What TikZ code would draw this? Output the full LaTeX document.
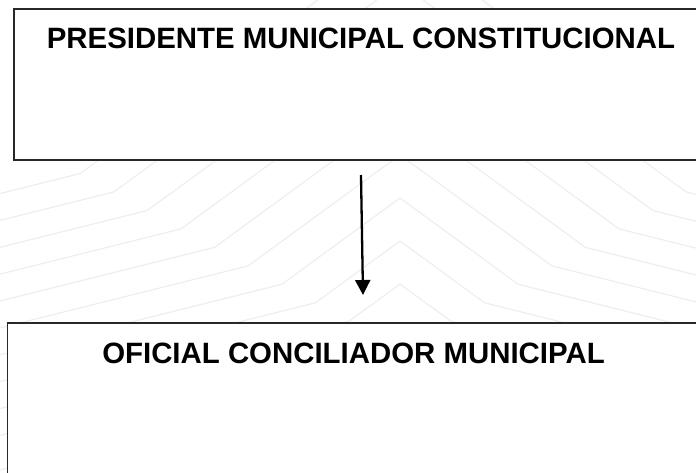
\documentclass[tikz,border=0pt]{standalone}
\usepackage{fontspec}
\setmainfont{Liberation Sans}
\usetikzlibrary{arrows.meta}
\definecolor{wmgray}{RGB}{238,238,238}
\definecolor{boxline}{RGB}{40,40,40}
\tikzset{
  wm/.style={draw=wmgray, line width=1.2pt, line join=round},
  orgbox/.style={draw=boxline, fill=white, line width=1.2pt, rectangle, inner sep=0pt},
  title/.style={font=\fontsize{29.4}{34}\selectfont\bfseries, inner sep=0pt, anchor=base},
  link/.style={draw=black, line width=2.3pt, -{Triangle[width=15pt,length=15pt]}}
}
\begin{document}
\begin{tikzpicture}[x=1pt,y=-1pt]
\useasboundingbox (0,0) rectangle (696,472);
\begin{scope}
\clip (0,0) rectangle (696,472);
\foreach \yo in {-60,-17,26,69,112,155,198,241,284,327,370,413}{
  \pgfmathsetmacro\dd{max(0,400-(\yo+162.6)/1.28)}
  \pgfmathsetmacro\yb{\yo+0.73*\dd}
  \pgfmathsetmacro\yl{\yb+0.25*(400-\dd)}
  \pgfmathsetmacro\yr{\yb+0.25*(296-\dd)}
  \draw[wm] (0,\yl) -- ({400-\dd},\yb) -- (400,\yo) -- ({400+\dd},\yb) -- (700,{\yr+0.25*4});
}
\end{scope}
% boxes
\node[orgbox, minimum width=696pt, minimum height=151pt] (top) at (362,84.5) {};
\node[orgbox, minimum width=700pt, minimum height=170pt] (bot) at (357.5,408) {};
\node[title] (toptext) at (361,48) {PRESIDENTE MUNICIPAL CONSTITUCIONAL};
\node[title] (bottext) at (353.5,363) {OFICIAL CONCILIADOR MUNICIPAL};
% connector
\coordinate (a1) at (361,175);
\coordinate (a2) at (363,295);
\draw[link] (a1) -- (a2);
\end{tikzpicture}
\end{document}
